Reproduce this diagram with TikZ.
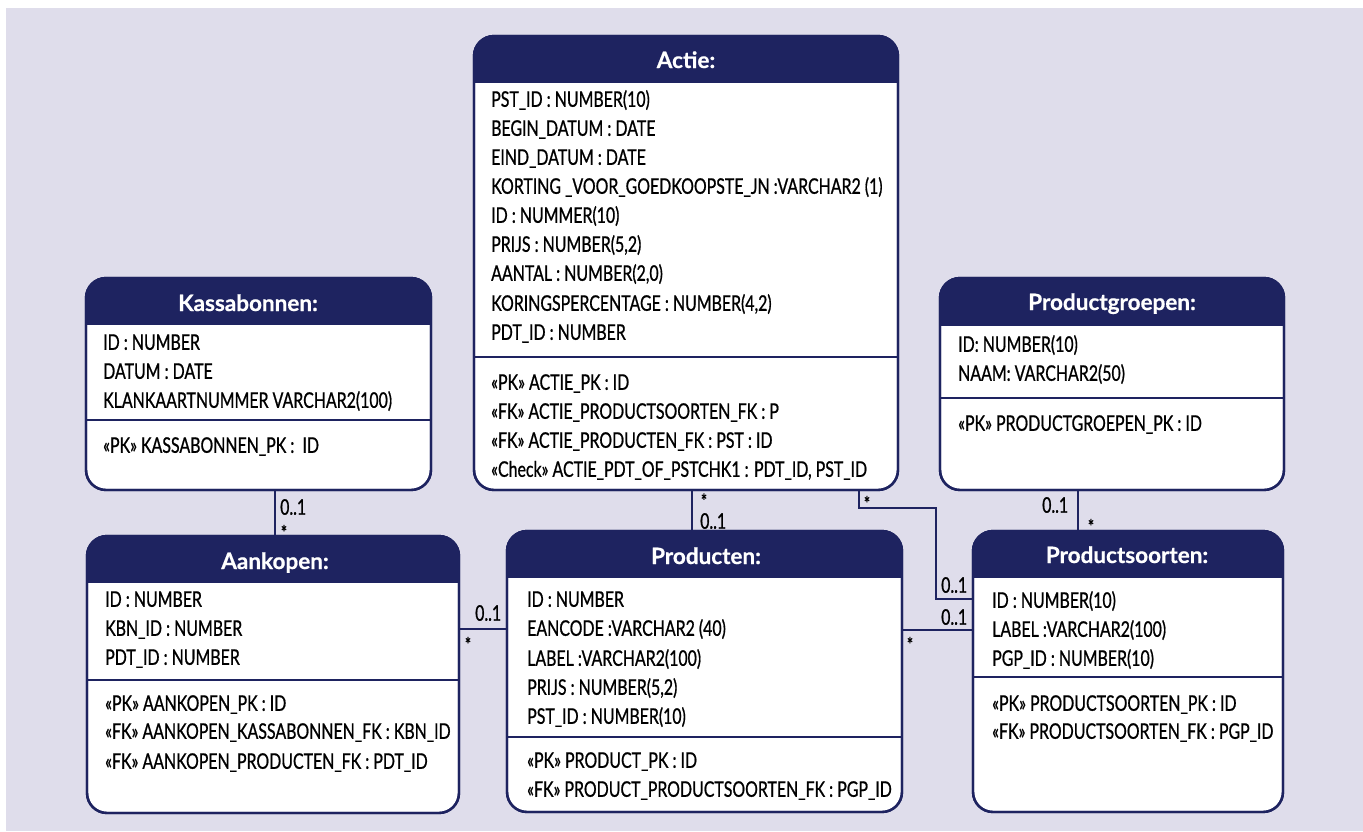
\documentclass[tikz,border=0pt]{standalone}
\usepackage{fontspec}
\setmainfont{Lato}
\newfontfamily\attrfont[FakeStretch=0.74,FakeBold=0.8]{Lato}
\newfontfamily\ttlfont[FakeBold=0.6]{Lato}
\definecolor{navy}{RGB}{30,35,96}
\definecolor{lav}{RGB}{223,221,235}
\tikzset{
  x=1pt, y=-1pt,
  boxshape/.style={draw=navy, line width=2.4pt, fill=white, rounded corners=20pt, inner sep=0pt, outer sep=0pt, anchor=north west},
  attr/.style={anchor=base west, inner sep=0pt, font=\attrfont\fontsize{21.5}{24}\selectfont, text=black},
  ttl/.style={anchor=base, inner sep=0pt, font=\ttlfont\bfseries\fontsize{22.5}{26}\selectfont, text=white},
  conn/.style={draw=navy, line width=2.4pt},
  mult/.style={anchor=west, inner sep=0pt, font=\attrfont\fontsize{21.5}{24}\selectfont},
  star/.style={anchor=base, inner sep=0pt, font=\attrfont\fontsize{20}{22}\selectfont}
}
% name, x1, y1, x2, y2, yheader, ysep
\newcommand\erbox[7]{%
  \node[boxshape, minimum width={(#4-#2)*1pt}, minimum height={(#5-#3)*1pt}] (#1) at (#2,#3) {};
  \begin{scope}
    \clip (#2-6,#3-6) rectangle (#4+6,#6);
    \fill[navy, rounded corners=20pt] (#1.north west) rectangle (#1.south east);
  \end{scope}
  \draw[navy, line width=2.4pt, rounded corners=20pt] (#1.north west) rectangle (#1.south east);
  \draw[navy, line width=2.2pt] (#2,#7) -- (#4,#7);
}
\begin{document}
\begin{tikzpicture}
\useasboundingbox (0,0) rectangle (1363,831);
\fill[white] (0,0) rectangle (1363,831);
\fill[lav] (6,8) rectangle (1363,831);

% boxes
\erbox{kassa}{86}{278}{431}{490}{324}{420}
\erbox{actie}{474}{36}{898}{490}{82}{357}
\erbox{groep}{940}{278}{1284}{490}{325}{398}
\erbox{aank}{87}{536}{459}{813}{582}{680}
\erbox{prod}{507}{531}{902}{812}{577}{737}
\erbox{soort}{973}{531}{1283}{812}{577}{677}

% titles
\node[ttl] (kassa-t) at (248,311) {Kassabonnen:};
\node[ttl] (actie-t) at (686,68) {Actie:};
\node[ttl] (groep-t) at (1112,310) {Productgroepen:};
\node[ttl] (aank-t) at (275,569) {Aankopen:};
\node[ttl] (prod-t) at (706,564) {Producten:};
\node[ttl] (soort-t) at (1127,563) {Productsoorten:};

% Kassabonnen
\node[attr] (k1) at (103,349.8) {ID : NUMBER};
\node[attr] (k2) at (103,378.8) {DATUM : DATE};
\node[attr] (k3) at (103,407.8) {KLANKAARTNUMMER VARCHAR2(100)};
\node[attr] (k4) at (103,452.8) {«PK» KASSABONNEN\_PK :\ \ ID};

% Actie
\node[attr] (a1) at (491,106.8) {PST\_ID : NUMBER(10)};
\node[attr] (a2) at (491,135.8) {BEGIN\_DATUM : DATE};
\node[attr] (a3) at (491,164.8) {EIND\_DATUM : DATE};
\node[attr] (a4) at (491,193.8) {KORTING \_VOOR\_GOEDKOOPSTE\_JN :VARCHAR2 (1)};
\node[attr] (a5) at (491,222.8) {ID : NUMMER(10)};
\node[attr] (a6) at (491,251.8) {PRIJS : NUMBER(5,2)};
\node[attr] (a7) at (491,280.8) {AANTAL : NUMBER(2,0)};
\node[attr] (a8) at (491,310.8) {KORINGSPERCENTAGE : NUMBER(4,2)};
\node[attr] (a9) at (491,339.8) {PDT\_ID : NUMBER};
\node[attr] (a10) at (491,389.8) {«PK» ACTIE\_PK : ID};
\node[attr] (a11) at (491,418.8) {«FK» ACTIE\_PRODUCTSOORTEN\_FK : P};
\node[attr] (a12) at (491,447.8) {«FK» ACTIE\_PRODUCTEN\_FK : PST : ID};
\node[attr] (a13) at (491,476.8) {«Check» ACTIE\_PDT\_OF\_PSTCHK1 : PDT\_ID, PST\_ID};

% Productgroepen
\node[attr] (g1) at (958,351.8) {ID: NUMBER(10)};
\node[attr] (g2) at (958,380.8) {NAAM: VARCHAR2(50)};
\node[attr] (g3) at (958,430.8) {«PK» PRODUCTGROEPEN\_PK : ID};

% Aankopen
\node[attr] (n1) at (105,606.8) {ID : NUMBER};
\node[attr] (n2) at (105,635.8) {KBN\_ID : NUMBER};
\node[attr] (n3) at (105,664.8) {PDT\_ID : NUMBER};
\node[attr] (n4) at (105,710.8) {«PK» AANKOPEN\_PK : ID};
\node[attr] (n5) at (105,738.8) {«FK» AANKOPEN\_KASSABONNEN\_FK : KBN\_ID};
\node[attr] (n6) at (105,768.8) {«FK» AANKOPEN\_PRODUCTEN\_FK : PDT\_ID};

% Producten
\node[attr] (p1) at (527,606.8) {ID : NUMBER};
\node[attr] (p2) at (527,635.8) {EANCODE :VARCHAR2 (40)};
\node[attr] (p3) at (527,665.8) {LABEL :VARCHAR2(100)};
\node[attr] (p4) at (527,694.8) {PRIJS : NUMBER(5,2)};
\node[attr] (p5) at (527,723.8) {PST\_ID : NUMBER(10)};
\node[attr] (p6) at (527,767.8) {«PK» PRODUCT\_PK : ID};
\node[attr] (p7) at (527,796.8) {«FK» PRODUCT\_PRODUCTSOORTEN\_FK : PGP\_ID};

% Productsoorten
\node[attr] (s1) at (992,607.8) {ID : NUMBER(10)};
\node[attr] (s2) at (992,636.8) {LABEL :VARCHAR2(100)};
\node[attr] (s3) at (992,665.8) {PGP\_ID : NUMBER(10)};
\node[attr] (s4) at (992,710.8) {«PK» PRODUCTSOORTEN\_PK : ID};
\node[attr] (s5) at (992,738.8) {«FK» PRODUCTSOORTEN\_FK : PGP\_ID};

% connectors
\coordinate (kx) at (275,0);
\coordinate (ax) at (692,0);
\coordinate (bx) at (859,0);
\coordinate (bc) at (936,508);
\coordinate (by) at (0,599);
\coordinate (cy) at (0,630);
\coordinate (dy) at (0,629);
\coordinate (gx) at (1078,0);
\draw[conn] (kassa.south -| kx) -- (aank.north -| kx);
\draw[conn] (actie.south -| ax) -- (prod.north -| ax);
\draw[conn] (actie.south -| bx) |- (bc) |- (soort.west |- by);
\draw[conn] (prod.east |- cy) -- (soort.west |- cy);
\draw[conn] (aank.east |- dy) -- (prod.west |- dy);
\draw[conn] (groep.south -| gx) -- (soort.north -| gx);

% multiplicities
\node[mult] (m1) at (280,507) {0..1};
\node[star] (m2) at (284,540) {*};
\node[star] (m3) at (704,508.5) {*};
\node[mult] (m4) at (700,521) {0..1};
\node[star] (m5) at (867,511) {*};
\node[mult] (m6) at (941,585) {0..1};
\node[mult] (m7) at (941,617) {0..1};
\node[star] (m8) at (910,652) {*};
\node[mult] (m9) at (475,613) {0..1};
\node[star] (m10) at (468,652) {*};
\node[mult] (m11) at (1042,505) {0..1};
\node[star] (m12) at (1091,534) {*};
\end{tikzpicture}
\end{document}
